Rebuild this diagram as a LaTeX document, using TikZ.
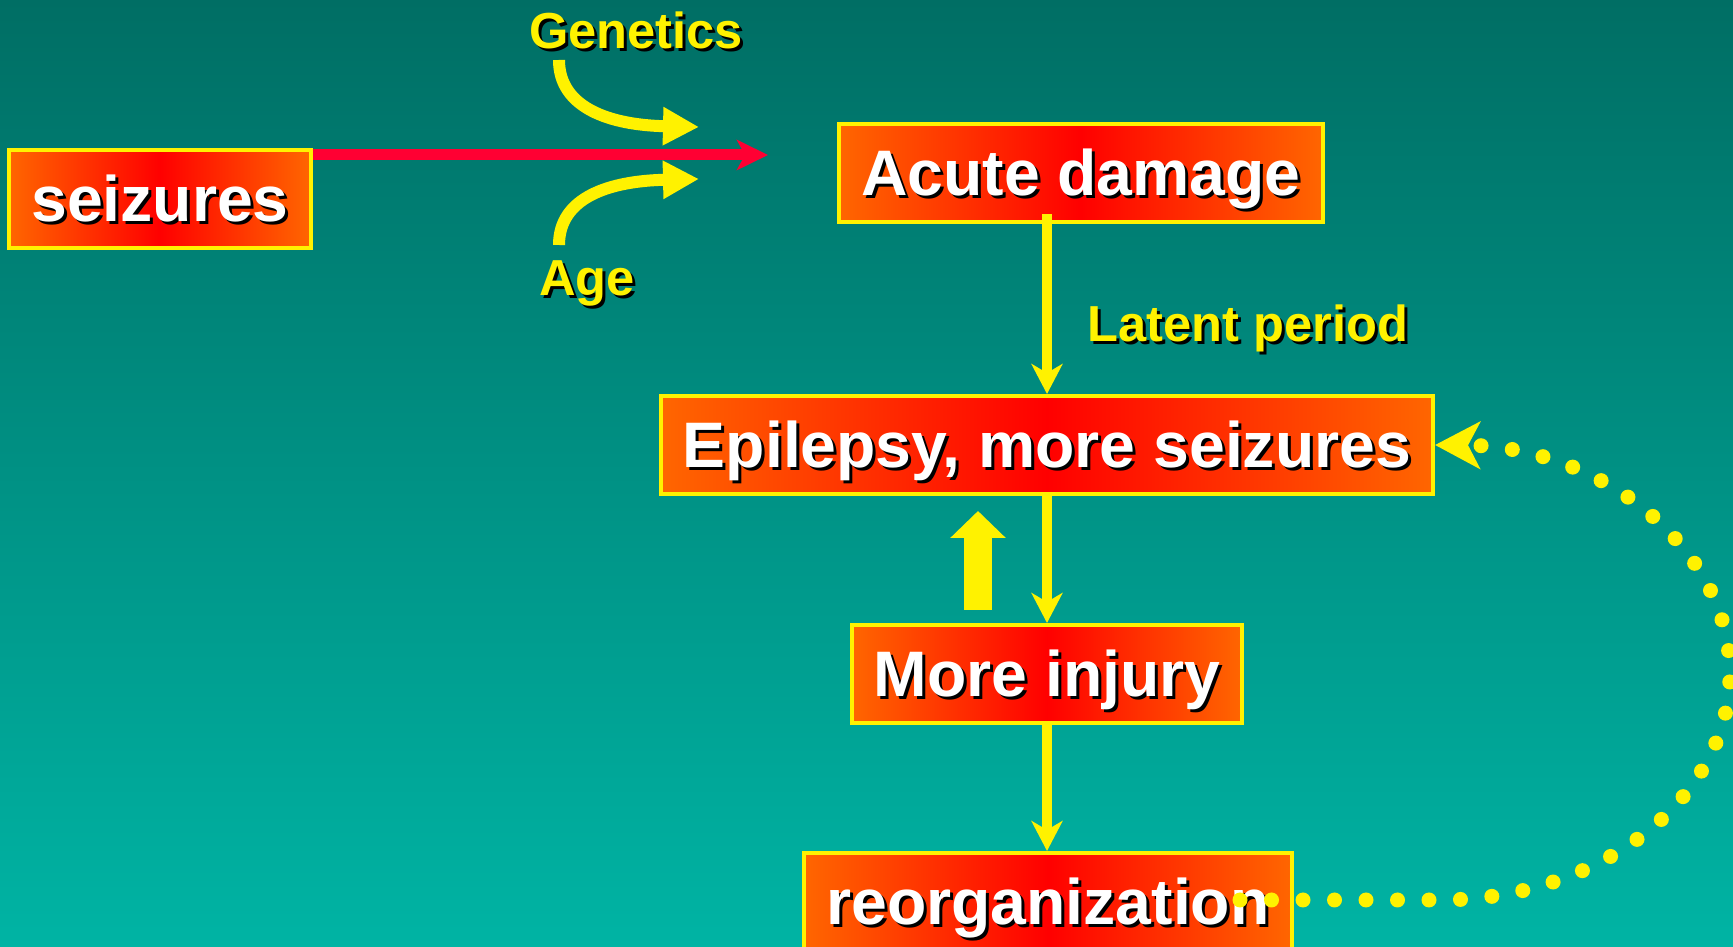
\documentclass[tikz,border=0pt]{standalone}
\usepackage{fontspec}
\setmainfont{Liberation Sans}
\usetikzlibrary{arrows.meta, positioning, calc}
\usepackage{xcolor}
\definecolor{bgtop}{HTML}{006E64}
\definecolor{bgbottom}{HTML}{00B4A4}
\definecolor{boxorange}{HTML}{FF6600}
\definecolor{boxred}{HTML}{FF0000}
\definecolor{causered}{HTML}{FF0033}
\newcommand{\shadowed}[1]{\makebox[0pt][l]{\hspace{0.3mm}\raisebox{-0.3mm}{\color{black}#1}}#1}
\tikzset{
    stage/.style={rectangle, draw=yellow, line width=0.4mm, left color=boxorange, right color=boxorange, middle color=boxred, text=white, font=\fontsize{18.3}{22}\selectfont\bfseries, inner xsep=2.2mm, text height=4.6mm, text depth=0pt, minimum height=9.8mm},
    factor/.style={text=yellow, font=\fontsize{14.4}{17}\selectfont\bfseries, inner sep=0pt, text height=3.6mm, text depth=0pt},
    flow/.style={draw=yellow, line width=1mm, -{Stealth[length=3mm, width=3.1mm, inset=0.9mm]}},
    cause/.style={draw=causered, line width=1.1mm, -{Stealth[length=3.1mm, width=3mm, inset=0.8mm]}},
    influence/.style={draw=yellow, line width=1.2mm, -{Triangle[length=3.6mm, width=3.6mm]}},
    fatarrow/.style={draw=yellow, line width=2.8mm, -{Triangle[length=2.7mm, width=5.4mm]}},
    feedback/.style={draw=yellow, line width=1.5mm, line cap=round, dash pattern=on 0pt off 3.15mm, -{Stealth[length=4.5mm, width=4.7mm, inset=1.2mm]}}
}
\begin{document}
\begin{tikzpicture}[x=0.1mm, y=-0.1mm]
    \useasboundingbox (0,0) rectangle (1733,947);
    \shade[top color=bgtop, bottom color=bgbottom] (0,0) rectangle (1733,947);

    % boxes
    \node[stage] (seizures) at (160,199) {\shadowed{seizures}};
    \node[stage] (acute) at (1081,173) {\shadowed{Acute damage}};
    \node[stage] (epilepsy) at (1047,445) {\shadowed{Epilepsy, more seizures}};
    \node[stage] (injury) at (1047,674) {\shadowed{More injury}};
    \node[stage] (reorg) at (1048,902) {\shadowed{reorganization}};

    % labels
    \node[factor] (genetics) at (636,31) {\shadowed{Genetics}};
    \node[factor] (age) at (587,278) {\shadowed{Age}};
    \node[factor] (latent) at (1248,324) {\shadowed{Latent period}};

    % free ends
    \coordinate (join) at (768,155);
    \coordinate (gtail) at (559,60);
    \coordinate (gtip) at (699,127);
    \coordinate (atail) at (559,245);
    \coordinate (atip) at (699,179);
    \coordinate (fatbase) at (978,610);
    \coordinate (fattip) at (978,511);
    \coordinate (loopstart) at (1240,900);

    \draw[cause] (seizures.east |- join) -- (join);
    \draw[influence] (gtail) .. controls (559,108) and (610,125) .. (gtip);
    \draw[influence] (atail) .. controls (559,197) and (610,181) .. (atip);

    \draw[flow] ([yshift=1mm]acute.south -| epilepsy.north) -- (epilepsy.north);
    \draw[flow] (epilepsy.south) -- (epilepsy.south |- injury.north);
    \draw[flow] (injury.south) -- (injury.south |- reorg.north);
    \draw[fatarrow] (fatbase) -- (fattip);

    \draw[feedback] (loopstart) -- (1440,900) .. controls (1600,900) and (1730,798) .. (1730,673)
        .. controls (1730,548) and (1600,446) .. (epilepsy.east);
\end{tikzpicture}
\end{document}
